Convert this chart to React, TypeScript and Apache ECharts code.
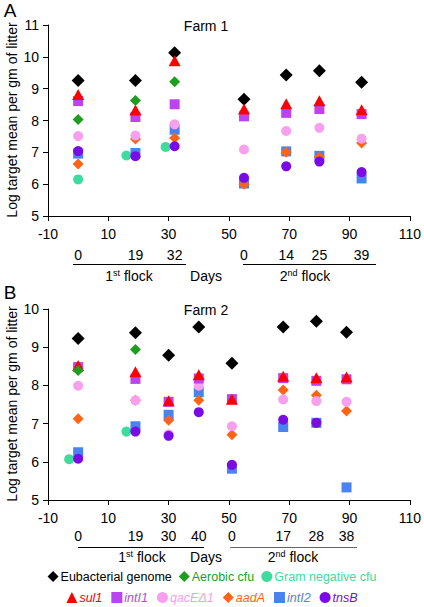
import React, { useEffect, useRef } from "react";
import * as echarts from "echarts";

// ---------- data ----------
const xTickValues = [-10, 10, 30, 50, 70, 90, 110];

// Farm 1 (panel A) – plotted day positions and their flock-day labels
const daysA = [0, 19, 32, 55, 69, 80, 94];
const dayLabelsA = ["0", "19", "32", "0", "14", "25", "39"];
const eubA = [9.26, 9.26, 10.13, 8.67, 9.43, 9.56, 9.2];
const aerobicA = [8.03, 8.63, 9.22, null, null, null, null];
const gramNegDaysA = [0, 16, 29];
const gramNegA = [6.15, 6.9, 7.17];
const sul1A = [8.82, 8.33, 9.88, 8.36, 8.53, 8.62, 8.34];
const intI1A = [8.61, 8.11, 8.51, 8.13, 8.24, 8.36, 8.2];
const qacEA = [7.51, 7.53, 7.88, 7.09, 7.67, 7.77, 7.43];
const aadAA = [6.63, 7.42, 7.45, 6.0, 7.0, 6.85, 7.29];
const intI2A = [6.96, 6.98, 7.71, 6.02, 7.03, 6.89, 6.18];
const tnsBA = [7.04, 6.88, 7.19, 6.2, 6.56, 6.71, 6.38];

// Farm 2 (panel B)
const daysB = [0, 19, 30, 40, 51, 68, 79, 89];
const dayLabelsB = ["0", "19", "30", "40", "0", "17", "28", "38"];
const eubB = [9.23, 9.38, 8.79, 9.53, 8.58, 9.53, 9.68, 9.39];
const aerobicB = [8.39, 8.94, null, null, null, null, null, null];
const gramNegDaysB = [-3, 16];
const gramNegB = [6.07, 6.79];
const sul1B = [8.52, 8.36, 7.6, 8.28, 7.64, 8.24, 8.2, 8.22];
const intI1B = [8.48, 8.17, 7.57, 8.18, 7.64, 8.19, 8.12, 8.16];
const qacEB = [7.99, 7.61, 6.72, 7.99, 6.93, 7.63, 7.59, 7.57];
const aadAB = [7.13, 7.61, 7.09, 7.61, 6.71, 7.88, 7.74, 7.33];
const intI2B = [6.25, 6.93, 7.23, 7.82, 5.82, 6.91, 7.02, 5.33];
const tnsBB = [6.08, 6.79, 6.68, 7.3, 5.92, 7.1, 7.02, null];

// ---------- styles ----------
const FONT = "Liberation Sans, Arial, Helvetica, sans-serif";
const C = {
  eub: "#000000",
  aerobic: "#1e9e1e",
  gram: "#3ddc9c",
  sul1: "#ff0000",
  intI1: "#bb44ee",
  qacE: "#f7a0ee",
  aadA: "#ff6414",
  intI2: "#4a82f0",
  tnsB: "#7a0ae6",
};

type Meta = { key: string; name: string; symbol: string; size: number | number[]; color: string; italic: boolean };
// drawing order (later on top)
const metas: Meta[] = [
  { key: "eub", name: "Eubacterial genome", symbol: "diamond", size: 13, color: C.eub, italic: false },
  { key: "gram", name: "Gram negative cfu", symbol: "circle", size: 10, color: C.gram, italic: false },
  { key: "intI2", name: "intI2", symbol: "rect", size: 10, color: C.intI2, italic: true },
  { key: "aadA", name: "aadA", symbol: "diamond", size: 11, color: C.aadA, italic: true },
  { key: "qacE", name: "qacEΔ1", symbol: "circle", size: 10, color: C.qacE, italic: true },
  { key: "intI1", name: "intI1", symbol: "rect", size: 10, color: C.intI1, italic: true },
  { key: "sul1", name: "sul1", symbol: "triangle", size: [12, 11], color: C.sul1, italic: true },
  { key: "aerobic", name: "Aerobic cfu", symbol: "diamond", size: 11, color: C.aerobic, italic: false },
  { key: "tnsB", name: "tnsB", symbol: "circle", size: 10, color: C.tnsB, italic: true },
];

const legendRow1 = ["Eubacterial genome", "Aerobic cfu", "Gram negative cfu"];
const legendRow2 = ["sul1", "intI1", "qacEΔ1", "aadA", "intI2", "tnsB"];

function pts(xs: number[], ys: (number | null)[]) {
  const out: number[][] = [];
  xs.forEach((x, i) => {
    const y = ys[i];
    if (y !== null && y !== undefined) out.push([x, y]);
  });
  return out;
}

const dataA: Record<string, number[][]> = {
  eub: pts(daysA, eubA),
  aerobic: pts(daysA, aerobicA),
  gram: pts(gramNegDaysA, gramNegA),
  sul1: pts(daysA, sul1A),
  intI1: pts(daysA, intI1A),
  qacE: pts(daysA, qacEA),
  aadA: pts(daysA, aadAA),
  intI2: pts(daysA, intI2A),
  tnsB: pts(daysA, tnsBA),
};
const dataB: Record<string, number[][]> = {
  eub: pts(daysB, eubB),
  aerobic: pts(daysB, aerobicB),
  gram: pts(gramNegDaysB, gramNegB),
  sul1: pts(daysB, sul1B),
  intI1: pts(daysB, intI1B),
  qacE: pts(daysB, qacEB),
  aadA: pts(daysB, aadAB),
  intI2: pts(daysB, intI2B),
  tnsB: pts(daysB, tnsBB),
};

function legendItem(name: string) {
  const m = metas.find((mm) => mm.name === name)!;
  return {
    name,
    icon: m.symbol,
    itemStyle: { color: m.color },
    textStyle: { color: m.color, fontStyle: m.italic ? "italic" : "normal" },
  };
}

function buildOption() {
  const axisLine = { show: true, onZero: false, lineStyle: { color: "#000", width: 1 } };
  const tickLbl = { color: "#000", fontSize: 14, fontFamily: FONT };

  const mainX = (gridIndex: number) => ({
    type: "value",
    gridIndex,
    min: -10,
    max: 110,
    position: "bottom",
    axisLine,
    axisTick: { show: true, length: 5, customValues: xTickValues, lineStyle: { color: "#000" } },
    axisLabel: { ...tickLbl, margin: 11, customValues: xTickValues },
    splitLine: { show: false },
  });
  const dayX = (gridIndex: number, days: number[], labels: string[], offset: number) => ({
    type: "value",
    gridIndex,
    min: -10,
    max: 110,
    position: "bottom",
    offset,
    axisLine: { show: false, onZero: false },
    axisTick: { show: false },
    axisLabel: {
      ...tickLbl,
      margin: 11,
      customValues: days,
      formatter: (v: number) => {
        const i = days.indexOf(v);
        return i >= 0 ? labels[i] : "";
      },
    },
    splitLine: { show: false },
  });
  const yAx = (gridIndex: number, max: number) => ({
    type: "value",
    gridIndex,
    min: 5,
    max,
    interval: 1,
    position: "left",
    axisLine,
    axisTick: { show: true, length: 5, lineStyle: { color: "#000" } },
    axisLabel: { ...tickLbl, margin: 9 },
    splitLine: { show: false },
  });

  const series: any[] = [];
  [dataA, dataB].forEach((d, gi) => {
    metas.forEach((m) => {
      series.push({
        type: "scatter",
        name: m.name,
        xAxisIndex: gi * 2,
        yAxisIndex: gi,
        symbol: m.symbol,
        symbolSize: m.size,
        itemStyle: { color: m.color, opacity: 1 },
        data: d[m.key],
        emphasis: { disabled: true },
      });
    });
  });

  const txt = (text: string, x: number, y: number, extra: any = {}) => ({
    type: "text",
    x,
    y,
    style: {
      text,
      fill: "#000",
      fontSize: 14,
      fontFamily: FONT,
      textAlign: "center",
      textVerticalAlign: "middle",
      ...extra,
    },
  });
  const flockRich = {
    sup: { fontSize: 9, fontFamily: FONT, fill: "#000", verticalAlign: "top", padding: [0, 0, 7, 0] },
  };
  const hline = (x1: number, x2: number, y: number, color = "#000") => ({
    type: "line",
    shape: { x1, y1: y, x2, y2: y },
    style: { stroke: color, lineWidth: 1 },
  });
  const flock = (num: string, ord: string, x: number, y: number) => ({
    type: "text",
    x,
    y,
    style: {
      text: `${num}{sup|${ord}} flock`,
      rich: flockRich,
      fill: "#000",
      fontSize: 14,
      fontFamily: FONT,
      textAlign: "center",
      textVerticalAlign: "middle",
    },
  });

  const graphic = [
    txt("A", 10, 10, { fontSize: 19 }),
    txt("B", 10, 292, { fontSize: 19 }),
    txt("Farm 1", 206, 26),
    txt("Farm 2", 206, 310),
    { ...txt("Log target mean per gm of litter", 12, 120), rotation: Math.PI / 2 },
    { ...txt("Log target mean per gm of litter", 12, 404), rotation: Math.PI / 2 },
    hline(73, 186, 264.5),
    hline(243, 376, 264.5),
    flock("1", "st", 129, 276),
    txt("Days", 206, 276),
    flock("2", "nd", 305, 276),
    hline(78, 204, 547.5),
    hline(230, 357, 547.5, "#666"),
    flock("1", "st", 142, 557),
    txt("Days", 206, 557),
    flock("2", "nd", 293, 557),
  ];

  return {
    animation: false,
    backgroundColor: "#fff",
    textStyle: { fontFamily: FONT },
    grid: [
      { left: 48, top: 25, width: 362, height: 191, containLabel: false },
      { left: 48, top: 309, width: 363, height: 191, containLabel: false },
    ],
    xAxis: [
      mainX(0),
      dayX(0, daysA, dayLabelsA, 21),
      mainX(1),
      dayX(1, daysB, dayLabelsB, 18),
    ],
    yAxis: [yAx(0, 11), yAx(1, 10)],
    legend: [
      {
        top: 570,
        left: "center",
        itemWidth: 11,
        itemHeight: 11,
        itemGap: 7,
        padding: 0,
        selectedMode: false,
        textStyle: { fontSize: 12.5, fontFamily: FONT, padding: [0, 0, 0, -3] },
        data: legendRow1.map(legendItem),
      },
      {
        top: 591,
        left: "center",
        itemWidth: 11,
        itemHeight: 11,
        itemGap: 9,
        padding: 0,
        selectedMode: false,
        textStyle: { fontSize: 12.5, fontFamily: FONT, padding: [0, 0, 0, -3] },
        data: legendRow2.map(legendItem),
      },
    ],
    graphic,
    series,
  };
}

export default function App() {
  const ref = useRef<HTMLDivElement>(null);
  useEffect(() => {
    if (!ref.current) return;
    const chart = echarts.init(ref.current, undefined, { renderer: "svg" });
    chart.setOption(buildOption() as any);
    return () => chart.dispose();
  }, []);
  return (
    <div
      ref={ref}
      style={{ position: "absolute", left: 0, top: 0, width: 424, height: 607, background: "#fff" }}
    />
  );
}
